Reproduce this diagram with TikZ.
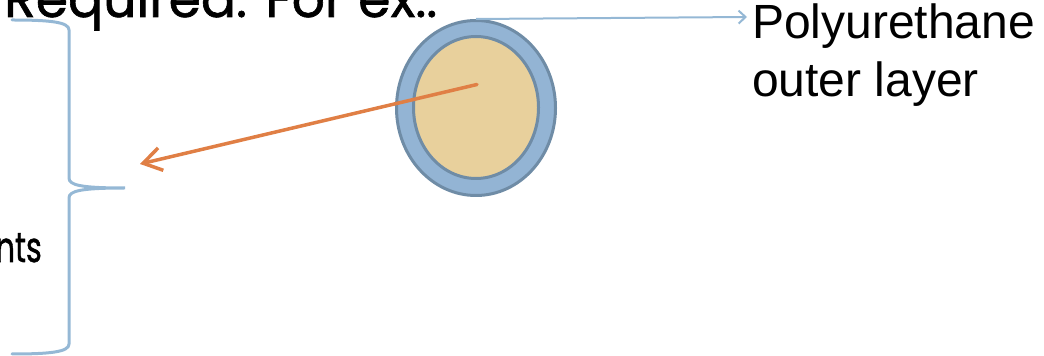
\documentclass[tikz,border=0pt]{standalone}
\usepackage{fontspec}
\usepackage{graphicx}
\usetikzlibrary{shapes.geometric, arrows.meta, positioning, calc}
\newfontfamily\themefont{Poppins}[FakeBold=1.2]
\newfontfamily\labelfont{Liberation Sans}
\definecolor{shellblue}{HTML}{93B4D4}
\definecolor{rimgray}{HTML}{6F8CA6}
\definecolor{coretan}{HTML}{E8D09C}
\definecolor{pointerorange}{HTML}{E07F45}
\definecolor{braceblue}{HTML}{95B8D5}

\tikzset{
  layer/.style={ellipse, draw=rimgray, line width=3pt, inner sep=0pt},
  bracket/.style={braceblue, line width=3pt, line cap=round},
  pointer/.style={pointerorange, line width=3.5pt, line cap=round, -{Straight Barb[length=18pt,width=23pt]}},
  callout/.style={braceblue, line width=2pt, -{Straight Barb[length=7pt,width=13pt]}}
}

\begin{document}
\begin{tikzpicture}[x=1pt,y=1pt]
  % Frame
  \useasboundingbox (0,0) rectangle (1044,356);
  \clip (0,0) rectangle (1044,356);

  % Slide text cut by the frame
  \node[anchor=base west, inner sep=0pt, font=\themefont\fontsize{52}{60}\selectfont] (heading) at (4,339) {Required. For ex.:};
  \node[anchor=base east, inner sep=0pt, font=\themefont\fontsize{42}{48}\selectfont] (tail) at (42,94) {\scalebox{0.72}[1]{nts}};

  % Brace
  \draw[bracket] (12,336) .. controls (50,336) and (69,334) .. (69,326) -- (69,178)
    .. controls (69,171) and (80,168) .. (125,168)
    .. controls (80,168) and (69,165) .. (69,158) -- (69,12)
    .. controls (69,4) and (50,2) .. (12,2);

  % Cable cross-section
  \node[layer, fill=shellblue, minimum width=159pt, minimum height=175pt] (shell) at (476,248) {};
  \node[layer, fill=coretan, minimum width=125pt, minimum height=142pt] (core) at (476,248.5) {};

  % Pointer to the brace
  \coordinate (spot) at ($(core.center)+(1,23)$);
  \coordinate (target) at (140,192);
  \draw[pointer] (spot) -- (target);

  % Layer label
  \node[anchor=base west, inner sep=0pt, font=\labelfont\fontsize{48}{58}\selectfont] (labeltop) at (752,317) {Polyurethane};
  \node[anchor=base west, inner sep=0pt, font=\labelfont\fontsize{48}{58}\selectfont] (labelbottom) at ($(labeltop.base west)+(0,-58)$) {outer layer};
  \coordinate (labeltip) at (747,339);
  \draw[callout] (shell.north) -- (labeltip);
\end{tikzpicture}
\end{document}
